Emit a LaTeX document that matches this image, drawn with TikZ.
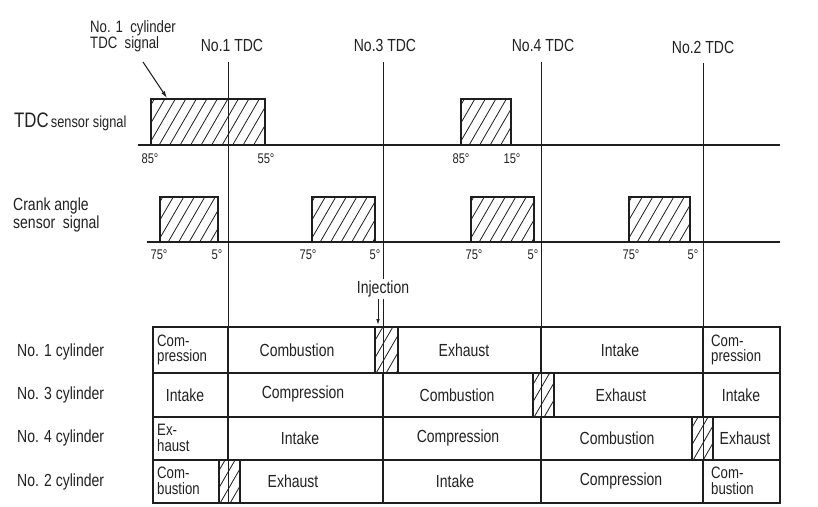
\documentclass[tikz,border=0pt]{standalone}
\usepackage{fontspec}
\setmainfont{Liberation Sans}[FakeStretch=0.8]
\usetikzlibrary{arrows.meta}
\definecolor{ink}{HTML}{1E1E1E}
\definecolor{txt}{HTML}{222222}
\tikzset{
 baseline/.style={line width=1.8pt, draw=ink},
 pulse/.style={line width=1.4pt, draw=ink},
 hatchl/.style={line width=0.8pt, draw=ink},
 tdcline/.style={line width=0.9pt, draw=ink},
 tbl/.style={line width=1.4pt, draw=ink},
 lbl/.style={inner sep=0pt, text=txt, font=\fontsize{17.5}{17.5}\selectfont},
 deg/.style={inner sep=0pt, text=txt, font=\fontsize{14}{14}\selectfont},
 cell/.style={inner sep=0pt, text=txt, font=\fontsize{17.5}{17.5}\selectfont},
 celltwo/.style={inner sep=0pt, text=txt, align=left, font=\fontsize{16.5}{15.5}\selectfont},
 ptr/.style={-{Latex[length=7pt,width=4pt]}, line width=1pt, draw=ink},
}
\newcommand{\myhatch}[4]{%
 \begin{scope}
 \clip (#1,#2) rectangle (#3,#4);
 \foreach \k in {0,...,16} {\draw[hatchl] ({#1-35+\k*10.5},{#4+2}) -- ++(40,-69);}
 \end{scope}
 \draw[pulse] (#1,#4) |- (#3,#2) -- (#3,#4);
}
\newcommand{\mycellhatch}[4]{%
 \begin{scope}
 \clip (#1,#2) rectangle (#3,#4);
 \foreach \k in {0,...,6} {\draw[hatchl] ({#1-30+\k*10},{#4+2}) -- ++(40,-69);}
 \end{scope}
}
\begin{document}
\begin{tikzpicture}[x=1pt,y=-1pt]
\useasboundingbox (0,0) rectangle (818,506);
\fill[white] (0,0) rectangle (818,506);

% TDC reference lines
\coordinate (t1a) at (228,62);  \coordinate (t1b) at (228,503);
\coordinate (t3a) at (383,62);  \coordinate (t3b) at (383,503);
\coordinate (t4a) at (541,62);  \coordinate (t4b) at (541,503);
\coordinate (t2a) at (703,63);  \coordinate (t2b) at (703,503);
\draw[tdcline] (t1a) -- (t1b);
\draw[tdcline] (t3a) -- (t3b);
\draw[tdcline] (t4a) -- (t4b);
\draw[tdcline] (t2a) -- (t2b);

\node[lbl] (n1tdc) at (232,45) {No.1 TDC};
\node[lbl] (n3tdc) at (385,45) {No.3 TDC};
\node[lbl] (n4tdc) at (543,45) {No.4 TDC};
\node[lbl] (n2tdc) at (703,47) {No.2 TDC};

% TDC sensor signal
\node[anchor=base west, inner sep=0pt, text=txt] (tdcs) at (14,127)
 {{\fontsize{21}{21}\selectfont TDC} {\fontsize{16}{16}\selectfont sensor signal}};
\coordinate (b1a) at (138,145); \coordinate (b1b) at (780,145);
\draw[baseline] (b1a) -- (b1b);
\myhatch{151}{99}{265}{145}
\myhatch{461}{99}{511}{145}
\node[deg] (d1) at (150,159) {85°};
\node[deg] (d2) at (266,159) {55°};
\node[deg] (d3) at (461,159) {85°};
\node[deg] (d4) at (512,159) {15°};

% annotation
\node[inner sep=0pt, text=txt, align=left, anchor=north west, font=\fontsize{16.5}{15}\selectfont] (ann) at (90,20) {No. 1\ \ cylinder\\TDC\ \ signal};
\coordinate (annS) at (143,62);
\coordinate (annE) at (167,98);
\draw[ptr] (annS) -- (annE);

% Crank angle sensor signal
\node[lbl, align=left, anchor=west] (crank) at (13,215) {Crank angle\\sensor\ \ signal};
\coordinate (b2a) at (147,242); \coordinate (b2b) at (780,242);
\draw[baseline] (b2a) -- (b2b);
\myhatch{160}{197}{218}{242}
\myhatch{312}{197}{375}{242}
\myhatch{471}{197}{534}{242}
\myhatch{629}{197}{690}{242}
\node[deg] (c1) at (159,255) {75°};
\node[deg] (c2) at (217,255) {5°};
\node[deg] (c3) at (308,255) {75°};
\node[deg] (c4) at (375,255) {5°};
\node[deg] (c5) at (474,255) {75°};
\node[deg] (c6) at (533,255) {5°};
\node[deg] (c7) at (631,255) {75°};
\node[deg] (c8) at (693,255) {5°};

% Injection
\node[lbl, fill=white, inner sep=1.5pt] (inj) at (383,289) {Injection};
\coordinate (injE) at (378,325);
\draw[-{Latex[length=6pt,width=3.5pt]}, line width=0.9pt, draw=ink] (inj.south -| injE) -- (injE);

% Table hatches
\mycellhatch{375}{327}{398}{373}
\mycellhatch{533}{373}{554}{417}
\mycellhatch{692}{417}{713}{460}
\mycellhatch{219}{460}{240}{503}

% Table frame
\draw[tbl] (153,327) rectangle (780,503);
\draw[tbl] (153,373) -- (780,373);
\draw[tbl] (153,417) -- (780,417);
\draw[tbl] (153,460) -- (780,460);
% row 1
\foreach \xx in {228,375,398,541,703} {\draw[tbl] (\xx,327) -- (\xx,373);}
% row 2
\foreach \xx in {228,383,533,554,703} {\draw[tbl] (\xx,373) -- (\xx,417);}
% row 3
\foreach \xx in {228,383,541,692,713} {\draw[tbl] (\xx,417) -- (\xx,460);}
% row 4
\foreach \xx in {219,240,383,541,703} {\draw[tbl] (\xx,460) -- (\xx,503);}

% Row labels
\node[lbl, anchor=west] (r1) at (17,352) {No. 1 cylinder};
\node[lbl, anchor=west] (r3) at (17,395) {No. 3 cylinder};
\node[lbl, anchor=west] (r4) at (17,438) {No. 4 cylinder};
\node[lbl, anchor=west] (r2) at (17,482) {No. 2 cylinder};

% Row 1
\node[celltwo, anchor=west] (a1) at (157,350) {Com-\\pression};
\node[cell] (a2) at (297,350) {Combustion};
\node[cell] (a3) at (464,350) {Exhaust};
\node[cell] (a4) at (620,350) {Intake};
\node[celltwo, anchor=west] (a5) at (711,350) {Com-\\pression};
% Row 2
\node[cell] (b1) at (185,395) {Intake};
\node[cell] (b2) at (303,394) {Compression};
\node[cell] (b3) at (457,395) {Combustion};
\node[cell] (b4) at (621,395) {Exhaust};
\node[cell] (b5) at (741,395) {Intake};
% Row 3
\node[celltwo, anchor=west] (e1) at (157,438) {Ex-\\haust};
\node[cell] (e2) at (300,438) {Intake};
\node[cell] (e3) at (458,438) {Compression};
\node[cell] (e4) at (617,438) {Combustion};
\node[cell] (e5) at (745,438) {Exhaust};
% Row 4
\node[celltwo, anchor=west] (f1) at (157,481) {Com-\\bustion};
\node[cell] (f2) at (293,481) {Exhaust};
\node[cell] (f3) at (455,481) {Intake};
\node[cell] (f4) at (621,481) {Compression};
\node[celltwo, anchor=west] (f5) at (711,481) {Com-\\bustion};
\end{tikzpicture}
\end{document}
